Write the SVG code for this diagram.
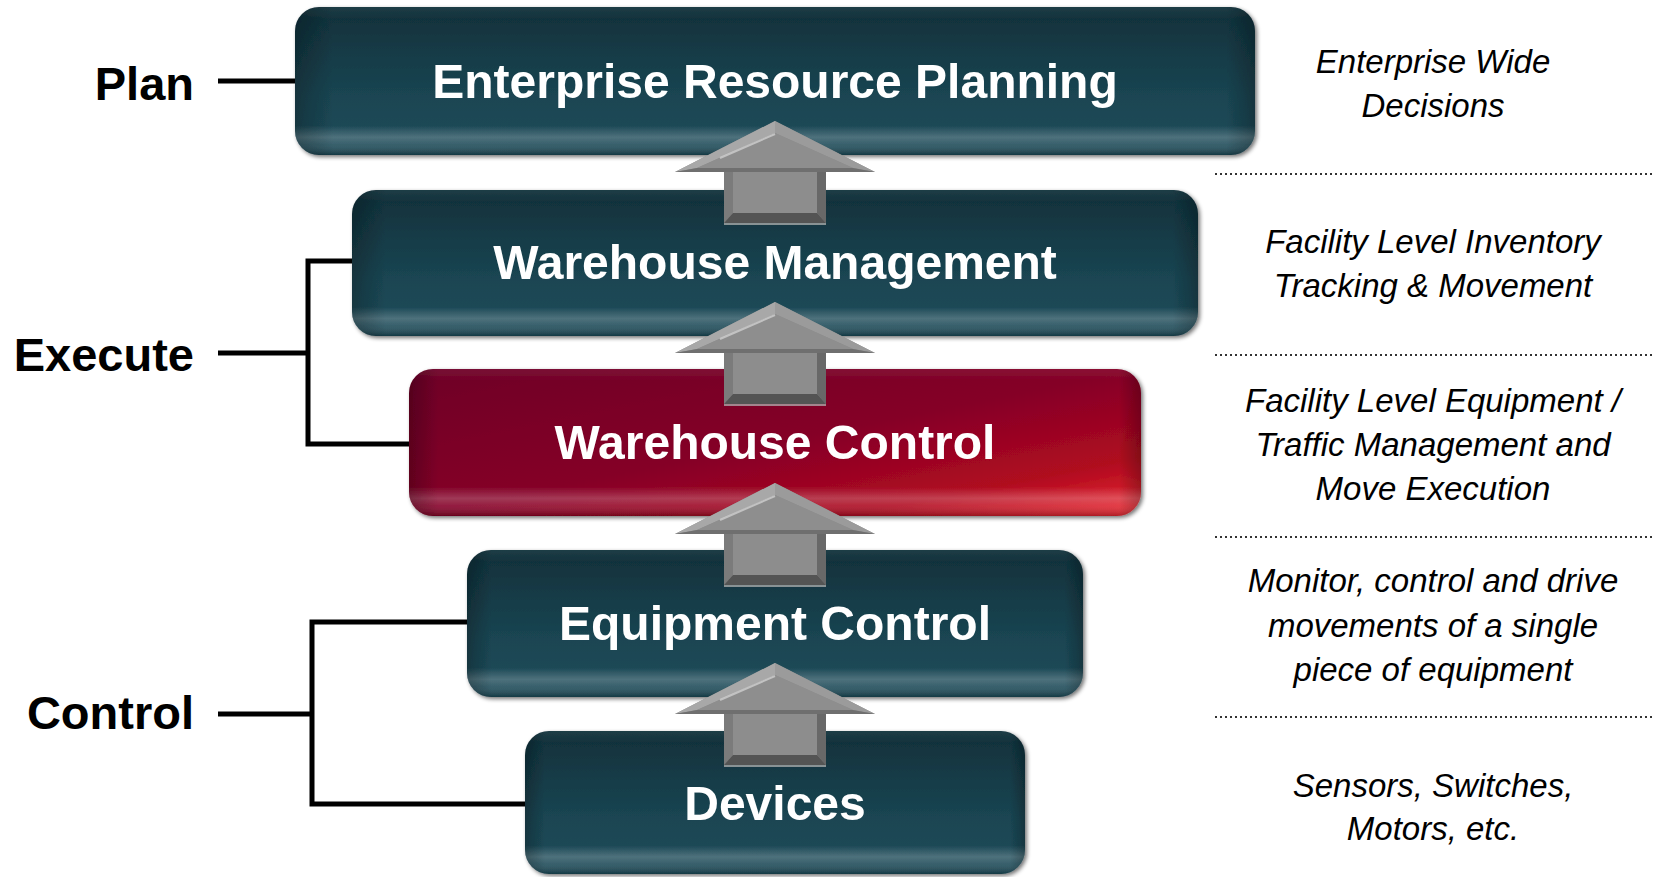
<svg xmlns="http://www.w3.org/2000/svg" width="1653" height="877" viewBox="0 0 1653 877">
<style>
.lbl{font-family:"Liberation Sans",Arial,sans-serif;font-weight:bold;font-size:48px;fill:#ffffff;text-anchor:middle}
.side{font-family:"Liberation Sans",Arial,sans-serif;font-weight:bold;font-size:47px;fill:#000;text-anchor:end}
.desc{font-family:"Liberation Sans",Arial,sans-serif;font-style:italic;font-size:33px;fill:#000;text-anchor:middle}
.br{fill:none;stroke:#000;stroke-width:5}
.dot{stroke:#333;stroke-width:2;stroke-dasharray:2 3}
</style>
<defs>
<linearGradient id="teal" x1="0" y1="0" x2="0" y2="1">
<stop offset="0" stop-color="#10303a"/>
<stop offset="0.6" stop-color="#1a4552"/>
<stop offset="1" stop-color="#1d4b59"/>
</linearGradient>
<linearGradient id="red" x1="0" y1="0" x2="1" y2="1">
<stop offset="0" stop-color="#6e0028"/>
<stop offset="0.5" stop-color="#850027"/>
<stop offset="0.8" stop-color="#b00a1f"/>
<stop offset="1" stop-color="#ee2a32"/>
</linearGradient>
<linearGradient id="gloss" x1="0" y1="0" x2="0" y2="1">
<stop offset="0" stop-color="#fff" stop-opacity="0.06"/>
<stop offset="0.08" stop-color="#fff" stop-opacity="0"/>
<stop offset="0.8" stop-color="#fff" stop-opacity="0"/>
<stop offset="0.88" stop-color="#fff" stop-opacity="0.22"/>
<stop offset="0.93" stop-color="#fff" stop-opacity="0.12"/>
<stop offset="1" stop-color="#000" stop-opacity="0.25"/>
</linearGradient>
<linearGradient id="side" x1="0" y1="0" x2="1" y2="0">
<stop offset="0" stop-color="#000" stop-opacity="0.25"/>
<stop offset="0.04" stop-color="#000" stop-opacity="0"/>
<stop offset="0.97" stop-color="#000" stop-opacity="0"/>
<stop offset="1" stop-color="#000" stop-opacity="0.25"/>
</linearGradient>
<filter id="sh" x="-5%" y="-10%" width="110%" height="125%">
<feGaussianBlur in="SourceAlpha" stdDeviation="2"/>
<feOffset dx="2" dy="2" result="b"/>
<feComponentTransfer><feFuncA type="linear" slope="0.55"/></feComponentTransfer>
<feMerge><feMergeNode/><feMergeNode in="SourceGraphic"/></feMerge>
</filter>
<g id="arrow">
<polygon points="0,0 100,51 -100,51" fill="#8b8b8b"/>
<polygon points="0,0 -100,51 -78,47 0,12" fill="#a8a8a8"/>
<polygon points="0,0 100,51 78,47 0,12" fill="#9b9b9b"/>
<polygon points="-100,51 100,51 78,47 -78,47" fill="#6f6f6f"/>
<polygon points="0,12 -78,47 78,47" fill="#8e8e8e"/>
<line x1="0" y1="13" x2="-55" y2="37" stroke="#d8d8d8" stroke-width="2" opacity="0.7"/>
<rect x="-51" y="51" width="102" height="51" fill="#8d8d8d"/>
<polygon points="-51,51 -42,51 -42,92 -51,102" fill="#7b7b7b"/>
<polygon points="51,51 42,51 42,92 51,102" fill="#686868"/>
<polygon points="-51,102 51,102 42,92 -42,92" fill="#545454"/>
<line x1="-51" y1="103" x2="51" y2="103" stroke="#b0b0b0" stroke-width="1.5"/>
</g>
</defs>
<rect width="1653" height="877" fill="#ffffff"/>

<g id="connectors">
<line class="br" x1="218" y1="81" x2="295" y2="81"/>
<line class="br" x1="218" y1="353" x2="308" y2="353"/>
<polyline class="br" points="352,261 308,261 308,444 409,444"/>
<line class="br" x1="218" y1="714" x2="312" y2="714"/>
<polyline class="br" points="467,622 312,622 312,804 525,804"/>
</g>

<g id="erp" filter="url(#sh)">
<rect x="295" y="7" width="960" height="148" rx="24" fill="url(#teal)"/>
<rect x="295" y="7" width="960" height="148" rx="24" fill="url(#gloss)"/>
<rect x="295" y="7" width="960" height="148" rx="24" fill="url(#side)"/>
<text class="lbl" x="775" y="98">Enterprise Resource Planning</text>
</g>
<g id="wm" filter="url(#sh)">
<rect x="352" y="190" width="846" height="146" rx="24" fill="url(#teal)"/>
<rect x="352" y="190" width="846" height="146" rx="24" fill="url(#gloss)"/>
<rect x="352" y="190" width="846" height="146" rx="24" fill="url(#side)"/>
<text class="lbl" x="775" y="279">Warehouse Management</text>
</g>
<g id="wc" filter="url(#sh)">
<rect x="409" y="369" width="732" height="147" rx="24" fill="url(#red)"/>
<rect x="409" y="369" width="732" height="147" rx="24" fill="url(#gloss)"/>
<rect x="409" y="369" width="732" height="147" rx="24" fill="url(#side)"/>
<text class="lbl" x="775" y="459">Warehouse Control</text>
</g>
<g id="ec" filter="url(#sh)">
<rect x="467" y="550" width="616" height="147" rx="24" fill="url(#teal)"/>
<rect x="467" y="550" width="616" height="147" rx="24" fill="url(#gloss)"/>
<rect x="467" y="550" width="616" height="147" rx="24" fill="url(#side)"/>
<text class="lbl" x="775" y="640">Equipment Control</text>
</g>
<g id="dev" filter="url(#sh)">
<rect x="525" y="731" width="500" height="143" rx="24" fill="url(#teal)"/>
<rect x="525" y="731" width="500" height="143" rx="24" fill="url(#gloss)"/>
<rect x="525" y="731" width="500" height="143" rx="24" fill="url(#side)"/>
<text class="lbl" x="775" y="820">Devices</text>
</g>

<g id="arrows">
<use href="#arrow" x="775" y="121"/>
<use href="#arrow" x="775" y="302"/>
<use href="#arrow" x="775" y="483"/>
<use href="#arrow" x="775" y="663"/>
</g>

<g id="side-labels">
<text class="side" x="194" y="100">Plan</text>
<text class="side" x="194" y="371">Execute</text>
<text class="side" x="194" y="729">Control</text>
</g>

<g id="descriptions">
<text class="desc" x="1433" y="73">Enterprise Wide</text>
<text class="desc" x="1433" y="117">Decisions</text>
<line class="dot" x1="1215" y1="174" x2="1653" y2="174"/>
<text class="desc" x="1433" y="253">Facility Level Inventory</text>
<text class="desc" x="1433" y="297">Tracking &amp; Movement</text>
<line class="dot" x1="1215" y1="355" x2="1653" y2="355"/>
<text class="desc" x="1433" y="412">Facility Level Equipment /</text>
<text class="desc" x="1433" y="456">Traffic Management and</text>
<text class="desc" x="1433" y="500">Move Execution</text>
<line class="dot" x1="1215" y1="537" x2="1653" y2="537"/>
<text class="desc" x="1433" y="592">Monitor, control and drive</text>
<text class="desc" x="1433" y="637">movements of a single</text>
<text class="desc" x="1433" y="681">piece of equipment</text>
<line class="dot" x1="1215" y1="717" x2="1653" y2="717"/>
<text class="desc" x="1433" y="797">Sensors, Switches,</text>
<text class="desc" x="1433" y="840">Motors, etc.</text>
</g>
</svg>
